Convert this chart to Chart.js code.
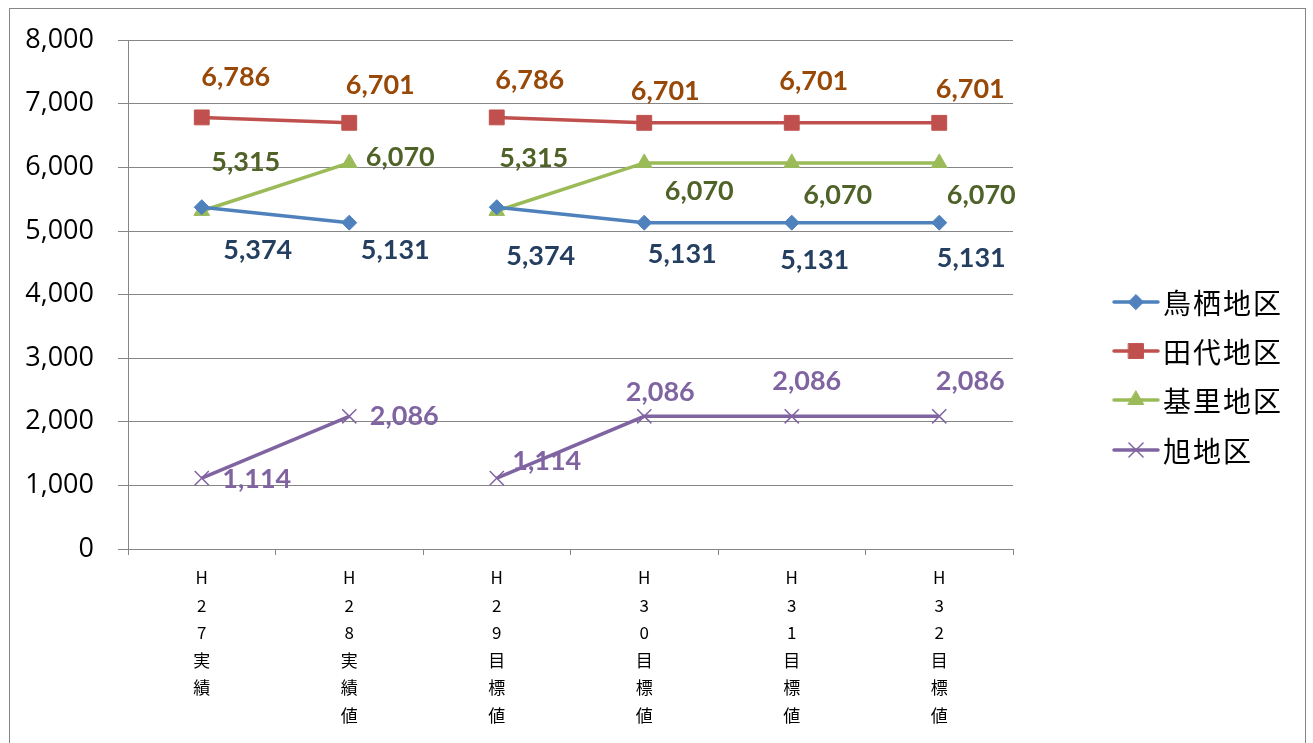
<!DOCTYPE html>
<html><head><meta charset="utf-8">
<script src="https://cdn.jsdelivr.net/npm/chart.js@4.4.1/dist/chart.umd.min.js"></script>
<style>html,body{margin:0;padding:0;background:#fff}#wrap{width:1313px;height:743px;position:relative}</style>
</head><body><div id="wrap"><canvas id="c" width="1313" height="743"></canvas></div>
<script>
const categories = [
  ['H','2','7','実','績'],
  ['H','2','8','実','績','値'],
  ['H','2','9','目','標','値'],
  ['H','3','0','目','標','値'],
  ['H','3','1','目','標','値'],
  ['H','3','2','目','標','値']
];
const seriesNames = ['鳥栖地区','田代地区','基里地区','旭地区'];
const tosu   = [5374, 5131, 5374, 5131, 5131, 5131];
const tashiro= [6786, 6701, 6786, 6701, 6701, 6701];
const kizato = [5315, 6070, 5315, 6070, 6070, 6070];
const asahi  = [1114, 2086, 1114, 2086, 2086, 2086];
const yTicks = [0,1000,2000,3000,4000,5000,6000,7000,8000];

// label offsets (style) relative to each point
const labelOffsets = [
  [[56,43],[46,28],[44,49],[38,32],[23,38],[32,36]],
  [[34,-40],[31,-38],[33,-37],[21,-32],[22,-42],[31,-34]],
  [[44,-49],[51,-6],[37,-53],[55,28],[46,32],[42,32]],
  [[55,1],[55,0],[50,-17],[16,-24],[15,-35],[31,-35]]
];
const lineColors = ['#4F81BD','#C0504D','#9BBB59','#8064A2'];
const labelColors = ['#243F60','#984807','#4F6228','#8064A2'];
const pointStyles = ['rectRot','rect','triangle','crossRot'];
const pointRadii = [7.5,10.5,9,10];

const seg = {
  borderColor: ctx => ctx.p0DataIndex === 1 ? 'rgba(0,0,0,0)' : undefined
};

const datasets = [tosu, tashiro, kizato, asahi].map((d,i)=>({
  label: seriesNames[i],
  data: d,
  borderColor: lineColors[i],
  backgroundColor: lineColors[i],
  pointBackgroundColor: lineColors[i],
  pointBorderColor: lineColors[i],
  pointStyle: pointStyles[i],
  pointRadius: pointRadii[i],
  pointBorderWidth: i===3 ? 1.5 : 1,
  borderWidth: 3.5,
  tension: 0,
  segment: seg
}));

const fmt = v => v.toLocaleString('en-US');

const bgBorder = {
  id:'bgBorder',
  beforeDraw(chart){
    const c = chart.ctx;
    c.save();
    c.fillStyle='#fff';
    c.fillRect(0,0,chart.width,chart.height);
    c.strokeStyle='#868686';
    c.lineWidth=1;
    c.strokeRect(9.5,8.5,1296,800);
    c.restore();
  }
};

const dataLabels = {
  id:'dataLabels',
  afterDatasetsDraw(chart){
    const c = chart.ctx;
    c.save();
    c.font = 'bold 27px Lato';
    c.textAlign='center';
    c.textBaseline='middle';
    chart.data.datasets.forEach((ds,i)=>{
      const meta = chart.getDatasetMeta(i);
      meta.data.forEach((pt,j)=>{
        c.fillStyle = labelColors[i];
        c.fillText(fmt(ds.data[j]), pt.x + labelOffsets[i][j][0], pt.y + labelOffsets[i][j][1]);
      });
    });
    c.restore();
  }
};

const customLegend = {
  id:'customLegend',
  afterDraw(chart){
    const c = chart.ctx;
    c.save();
    const x0 = 1114, x1 = 1158, tx = 1163;
    const ys = [302,351,400,450];
    chart.data.datasets.forEach((ds,i)=>{
      const y = ys[i];
      c.strokeStyle = ds.borderColor;
      c.lineWidth = 3.5;
      c.lineCap='round';
      c.beginPath(); c.moveTo(x0,y); c.lineTo(x1,y); c.stroke();
      c.fillStyle = ds.borderColor;
      c.strokeStyle = ds.borderColor;
      c.lineWidth = ds.pointBorderWidth;
      Chart.helpers.drawPoint(c,{pointStyle:ds.pointStyle,radius:ds.pointRadius,borderWidth:ds.pointBorderWidth,rotation:0},(x0+x1)/2,y);
      c.fillStyle='#000';
      c.font='28px "Noto Sans CJK JP"';
      c.letterSpacing='2px';
      c.textAlign='left';
      c.textBaseline='middle';
      c.fillText(ds.label, tx, y+1);
      c.letterSpacing='0px';
    });
    c.restore();
  }
};

new Chart(document.getElementById('c'),{
  type:'line',
  data:{labels:categories, datasets},
  options:{
    responsive:false,
    animation:false,
    layout:{padding:{left:0,top:37,right:300,bottom:0}},
    plugins:{legend:{display:false},tooltip:{enabled:false}},
    scales:{
      x:{
        offset:true,
        grid:{offset:true,drawOnChartArea:false,color:'#868686',tickLength:6,drawTicks:true},
        border:{color:'#868686',width:1},
        ticks:{color:'#000',font:{family:'"Noto Sans CJK JP"',size:17,lineHeight:1.62},padding:9,maxRotation:0,autoSkip:false},
        afterFit(s){ s.height = 743-549; }
      },
      y:{
        min:0,max:8000,
        afterBuildTicks(s){ s.ticks = yTicks.map(v=>({value:v})); },
        grid:{color:'#868686',tickLength:10,lineWidth:1},
        border:{color:'#868686',width:1},
        ticks:{color:'#000',font:{family:'"Open Sans"',size:27},padding:24,callback:v=>fmt(v)},
        afterFit(s){ s.width = 128; }
      }
    }
  },
  plugins:[bgBorder,dataLabels,customLegend]
});
</script>
</body></html>
